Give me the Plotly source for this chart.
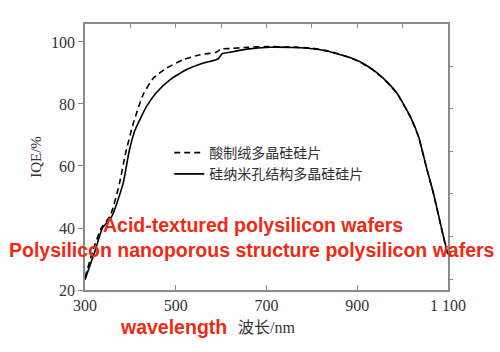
import plotly.graph_objects as go

# Acid-textured (dashed)
wl_acid = [300, 318, 336, 356, 376, 390, 405, 418, 429, 451, 480, 517, 554, 587, 593, 599,
           620, 660, 700, 750, 800, 835, 862, 885, 905, 925, 945, 965, 988, 1017, 1035, 1054, 1068, 1090, 1100]
iqe_acid = [24.0, 33.0, 40.0, 44.0, 54.4, 64.5, 73.0, 79.0, 83.3, 88.4, 91.6, 94.3, 95.9, 96.6, 97.0, 97.7,
            97.9, 98.3, 98.5, 98.4, 98.0, 97.1, 96.0, 94.9, 93.6, 91.9, 89.8, 87.1, 83.3, 75.8, 69.4, 58.6, 51.0, 37.0, 31.0]

# Nanoporous structure (solid)
wl_nano = [300, 323, 338, 360, 384, 397, 410, 436, 458, 487, 524, 561, 589, 595, 602,
           620, 657, 708, 760, 803, 835, 862, 885, 905, 925, 945, 965, 988, 1017, 1035, 1054, 1068, 1090, 1100]
iqe_nano = [23.3, 33.0, 39.8, 44.0, 54.4, 64.5, 71.5, 79.3, 83.8, 87.8, 91.1, 93.2, 94.3, 94.8, 96.2,
            96.7, 97.7, 98.3, 98.2, 97.8, 97.0, 95.9, 94.9, 93.7, 92.0, 89.9, 87.2, 83.4, 75.9, 69.5, 58.7, 51.2, 37.2, 31.5]

x_ticks = [300, 500, 700, 900, 1100]
x_ticktext = ["300", "500", "700", "900", "1 100"]
y_ticks = [20, 40, 60, 80, 100]

name_acid = "酸制绒多晶硅硅片"
name_nano = "硅纳米孔结构多晶硅硅片"
en_acid = "Acid-textured polysilicon wafers"
en_nano = "Polysilicon nanoporous structure polysilicon wafers"

axis_col = "#8a8a8a"
serif = "Liberation Serif, Times New Roman, serif"
cjk = "Noto Sans CJK SC"
red = "#ee2a12"

fig = go.Figure()
fig.add_trace(go.Scatter(x=wl_acid, y=iqe_acid, mode="lines", name=name_acid,
                         line=dict(color="black", width=1.6, dash="6px,4px", shape="spline", smoothing=0.5)))
fig.add_trace(go.Scatter(x=wl_nano, y=iqe_nano, mode="lines", name=name_nano,
                         line=dict(color="black", width=1.6, shape="spline", smoothing=0.5)))
# invisible trace for top/right mirror tick axes
fig.add_trace(go.Scatter(x=[300], y=[None], xaxis="x2", yaxis="y2", showlegend=False, hoverinfo="skip"))

fig.update_layout(
    width=500, height=352,
    margin=dict(l=85, r=52, t=24, b=62),
    paper_bgcolor="white", plot_bgcolor="white",
    font=dict(family=serif, size=15, color="#333"),
    xaxis=dict(range=[300, 1100], tickvals=x_ticks, ticktext=x_ticktext,
               ticks="inside", ticklen=5, tickcolor=axis_col, tickwidth=1.3,
               showline=True, linecolor=axis_col, linewidth=1.6, showgrid=False, zeroline=False,
               tickfont=dict(family=serif, size=16, color="#333"),
               title=dict(text="<span style='font-family:Noto Sans CJK SC'>波长</span>/nm",
                          font=dict(family=serif, size=16, color="#333"), standoff=8)),
    yaxis=dict(range=[20, 105.8], tickvals=y_ticks,
               ticks="outside", ticklen=5, tickcolor=axis_col, tickwidth=1.3,
               showline=True, linecolor=axis_col, linewidth=1.6, showgrid=False, zeroline=False,
               tickfont=dict(family=serif, size=16, color="#333"),
               title=dict(text="IQE/%", font=dict(family=serif, size=15, color="#333"), standoff=6)),
    xaxis2=dict(overlaying="x", side="top", range=[300, 1100], dtick=100, tick0=300,
                ticks="inside", ticklen=4, tickcolor=axis_col, showticklabels=False,
                showline=True, linecolor=axis_col, linewidth=1.6, showgrid=False, zeroline=False),
    yaxis2=dict(overlaying="y", side="right", range=[-0.258, 5.986], dtick=1, tick0=0,
                ticks="outside", ticklen=3, tickcolor=axis_col, showticklabels=False,
                showline=True, linecolor=axis_col, linewidth=1.6, showgrid=False, zeroline=False),
    legend=dict(x=0.232, y=0.575, xanchor="left", yanchor="top", bgcolor="rgba(0,0,0,0)",
                font=dict(family=cjk, size=14, color="#333"), tracegroupgap=0, itemwidth=30),
    showlegend=True,
)

fig.add_annotation(text=f"<b>{en_acid}</b>", x=0.463, y=0.245, xref="paper", yref="paper",
                   xanchor="center", yanchor="middle",
                   showarrow=False, font=dict(family="Liberation Sans, Arial", size=19.5, color=red))
fig.add_annotation(text=f"<b>{en_nano}</b>", x=0.459, y=0.15, xref="paper", yref="paper",
                   xanchor="center", yanchor="middle",
                   showarrow=False, font=dict(family="Liberation Sans, Arial", size=19.5, color=red))
fig.add_annotation(text="<b>wavelength</b>", x=0.09, y=-0.14, xref="paper", yref="paper",
                   xanchor="left", yanchor="middle",
                   showarrow=False, font=dict(family="Liberation Sans, Arial", size=19.5, color=red))

fig.write_html("out.html")
